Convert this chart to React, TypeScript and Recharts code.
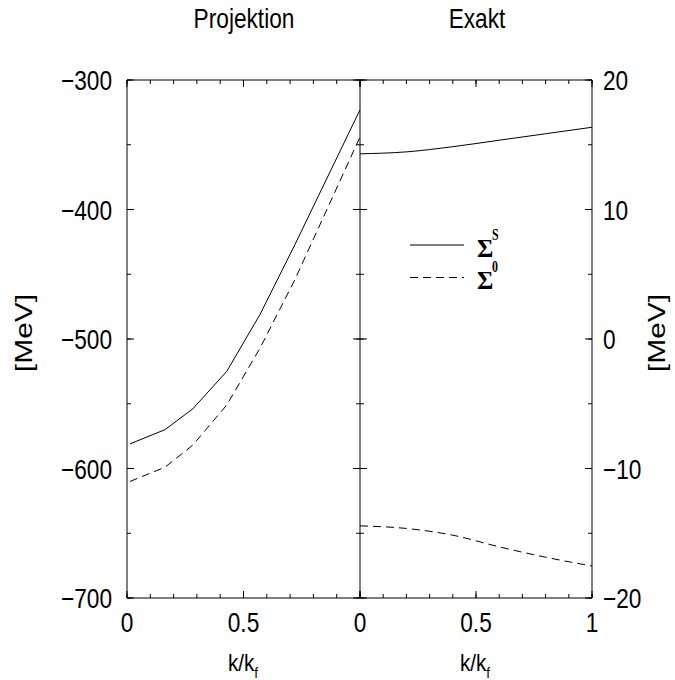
import React from "react";
import { Line, LineChart, XAxis, YAxis } from "recharts";

// k/kf ticks and the two MeV scales
const X_TICKS = [0, 0.1, 0.2, 0.3, 0.4, 0.5, 0.6, 0.7, 0.8, 0.9, 1];
const X_MAJOR = [0, 0.5, 1];
const LEFT_Y_TICKS = [-700, -650, -600, -550, -500, -450, -400, -350, -300];
const LEFT_Y_LABELS = [-700, -600, -500, -400, -300];
const RIGHT_Y_TICKS = [-20, -15, -10, -5, 0, 5, 10, 15, 20];
const RIGHT_Y_LABELS = [-20, -10, 0, 10, 20];

// Projektion panel
const PROJ_K = [0.013, 0.163, 0.282, 0.428, 0.571, 0.721, 1];
const PROJ_SIGMA_S = [-581, -570, -554, -525, -481, -427, -323];
const PROJ_SIGMA_0 = [-610, -599, -582, -551, -507, -454, -344];

// Exakt panel
const EXACT_K = [0, 0.2, 0.4, 0.6, 0.8, 1];
const EXACT_SIGMA_S = [14.3, 14.45, 14.85, 15.35, 15.85, 16.35];
const EXACT_SIGMA_0 = [-14.43, -14.63, -15.15, -16.05, -16.85, -17.53];

const SANS = "'Liberation Sans', Arial, Helvetica, sans-serif";
const SERIF = "'Liberation Serif', 'Times New Roman', serif";

const TOP = 80;
const BOTTOM = 598;
const MINOR = 4;
const MAJOR = 7;

const pairs = (ks: number[], vs: number[]) => ks.map((k, i) => ({ k, v: vs[i] }));

const fmt = (v: number) => (v < 0 ? "\u2212" + Math.abs(v) : String(v));

function Sq({ x, y, anchor = "middle", size = 28, sx = 0.81, children }: any) {
  return (
    <text
      transform={`translate(${x},${y}) scale(${sx},1)`}
      textAnchor={anchor}
      fontSize={size}
      fontFamily={SANS}
      fill="#000"
    >
      {children}
    </text>
  );
}

// tick renderers: label (if any) plus the longer mark on major ticks
const xTick = (axisY: number, dir: number, labels: number[]) => (p: any) => {
  const c = p.payload.coordinate;
  const v = p.payload.value;
  return (
    <g>
      {X_MAJOR.includes(v) && <line x1={c} x2={c} y1={axisY} y2={axisY + dir * MAJOR} stroke="#000" />}
      {labels.includes(v) && (
        <Sq x={c} y={BOTTOM + 34}>
          {fmt(v)}
        </Sq>
      )}
    </g>
  );
};

const yTick = (axisX: number, dir: number, majors: number[], labels: number[] = [], labelX = 0, anchor = "end") =>
  (p: any) => {
    const c = p.payload.coordinate;
    const v = p.payload.value;
    return (
      <g>
        {majors.includes(v) && <line x1={axisX} x2={axisX + dir * MAJOR} y1={c} y2={c} stroke="#000" />}
        {labels.includes(v) && (
          <Sq x={labelX} y={c + 10} anchor={anchor}>
            {fmt(v)}
          </Sq>
        )}
      </g>
    );
  };

function KLabel({ x }: { x: number }) {
  return (
    <text transform={`translate(${x},671) scale(0.9,1)`} textAnchor="middle" fontSize={23} fontFamily={SANS}>
      k/k
      <tspan fontSize={15} dy={7}>
        f
      </tspan>
    </text>
  );
}

function MeV({ x }: { x: number }) {
  return (
    <text
      transform={`translate(${x},333) rotate(-90) scale(1,0.81)`}
      y={7}
      textAnchor="middle"
      fontSize={30}
      fontFamily={SANS}
    >
      [MeV]
    </text>
  );
}

const tickLine = { stroke: "#000" };

export default function App() {
  return (
    <div style={{ position: "absolute", left: 0, top: 0, width: 675, height: 680, background: "#fff" }}>
      <style>{`.recharts-surface{overflow:visible}`}</style>

      {/* Projektion: solid uses bottom/left axes, dashed uses top/right so every frame side gets ticks */}
      <div style={{ position: "absolute", left: 0, top: 0 }}>
        <LineChart width={361} height={680} margin={{ top: TOP, right: 1, bottom: 0, left: 0 }}>
          <XAxis
            xAxisId="b"
            type="number"
            dataKey="k"
            domain={[0, 1]}
            ticks={X_TICKS}
            interval={0}
            height={82}
            stroke="#000"
            tickSize={-MINOR}
            tickLine={tickLine}
            tick={xTick(BOTTOM, -1, [0, 0.5])}
          />
          <XAxis
            xAxisId="t"
            orientation="top"
            mirror
            type="number"
            dataKey="k"
            domain={[0, 1]}
            ticks={X_TICKS}
            interval={0}
            stroke="#000"
            tickSize={MINOR}
            tickLine={tickLine}
            tick={xTick(TOP, 1, [])}
          />
          <YAxis
            yAxisId="l"
            type="number"
            domain={[-700, -300]}
            ticks={LEFT_Y_TICKS}
            interval={0}
            width={127}
            stroke="#000"
            tickSize={-MINOR}
            tickLine={tickLine}
            tick={yTick(127, 1, LEFT_Y_LABELS, LEFT_Y_LABELS, 112, "end")}
          />
          <YAxis
            yAxisId="r"
            orientation="right"
            mirror
            type="number"
            domain={[-700, -300]}
            ticks={LEFT_Y_TICKS}
            interval={0}
            stroke="#000"
            tickSize={MINOR}
            tickLine={tickLine}
            tick={yTick(360, -1, LEFT_Y_LABELS)}
          />
          <Line
            xAxisId="b"
            yAxisId="l"
            data={pairs(PROJ_K, PROJ_SIGMA_S)}
            dataKey="v"
            type="linear"
            stroke="#000"
            strokeWidth={1}
            dot={false}
            isAnimationActive={false}
          />
          <Line
            xAxisId="t"
            yAxisId="r"
            data={pairs(PROJ_K, PROJ_SIGMA_0)}
            dataKey="v"
            type="linear"
            stroke="#000"
            strokeWidth={1}
            strokeDasharray="8 5"
            dot={false}
            isAnimationActive={false}
          />
        </LineChart>
      </div>

      {/* Exakt */}
      <div style={{ position: "absolute", left: 360, top: 0 }}>
        <LineChart width={315} height={680} margin={{ top: TOP, right: 0, bottom: 0, left: 0 }}>
          <XAxis
            xAxisId="b"
            type="number"
            dataKey="k"
            domain={[0, 1]}
            ticks={X_TICKS}
            interval={0}
            height={82}
            stroke="#000"
            tickSize={-MINOR}
            tickLine={tickLine}
            tick={xTick(BOTTOM, -1, [0, 0.5, 1])}
          />
          <XAxis
            xAxisId="t"
            orientation="top"
            mirror
            type="number"
            dataKey="k"
            domain={[0, 1]}
            ticks={X_TICKS}
            interval={0}
            stroke="#000"
            tickSize={MINOR}
            tickLine={tickLine}
            tick={xTick(TOP, 1, [])}
          />
          <YAxis
            yAxisId="r"
            orientation="right"
            type="number"
            domain={[-20, 20]}
            ticks={RIGHT_Y_TICKS}
            interval={0}
            width={83}
            stroke="#000"
            tickSize={-MINOR}
            tickLine={tickLine}
            tick={yTick(232, -1, RIGHT_Y_LABELS, RIGHT_Y_LABELS, 243, "start")}
          />
          <YAxis
            yAxisId="l"
            mirror
            type="number"
            domain={[-20, 20]}
            ticks={RIGHT_Y_TICKS}
            interval={0}
            axisLine={false}
            stroke="#000"
            tickSize={MINOR}
            tickLine={tickLine}
            tick={yTick(0, 1, RIGHT_Y_LABELS)}
          />
          <Line
            xAxisId="b"
            yAxisId="r"
            data={pairs(EXACT_K, EXACT_SIGMA_S)}
            dataKey="v"
            type="monotone"
            stroke="#000"
            strokeWidth={1}
            dot={false}
            isAnimationActive={false}
          />
          <Line
            xAxisId="t"
            yAxisId="l"
            data={pairs(EXACT_K, EXACT_SIGMA_0)}
            dataKey="v"
            type="monotone"
            stroke="#000"
            strokeWidth={1}
            strokeDasharray="8 5"
            dot={false}
            isAnimationActive={false}
          />
        </LineChart>
      </div>

      <svg width={675} height={680} style={{ position: "absolute", left: 0, top: 0, pointerEvents: "none" }}>
        <Sq x={244} y={28}>Projektion</Sq>
        <Sq x={477} y={28}>Exakt</Sq>
        <KLabel x={243} />
        <KLabel x={475} />
        <MeV x={26} />
        <MeV x={659} />

        {/* legend */}
        <line x1={410} x2={464} y1={245} y2={245} stroke="#000" />
        <line x1={410} x2={464} y1={277.5} y2={277.5} stroke="#000" strokeDasharray="8 5" />
        <text x={477} y={257} fontSize={25} fontFamily={SERIF} fontWeight="bold">
          Σ
        </text>
        <text transform="translate(492,240) scale(0.7,1)" fontSize={17} fontFamily={SERIF} fontWeight="bold">
          S
        </text>
        <text x={477} y={288.5} fontSize={25} fontFamily={SERIF} fontWeight="bold">
          Σ
        </text>
        <text transform="translate(492,272) scale(0.7,1)" fontSize={17} fontFamily={SERIF} fontWeight="bold">
          0
        </text>
      </svg>
    </div>
  );
}
